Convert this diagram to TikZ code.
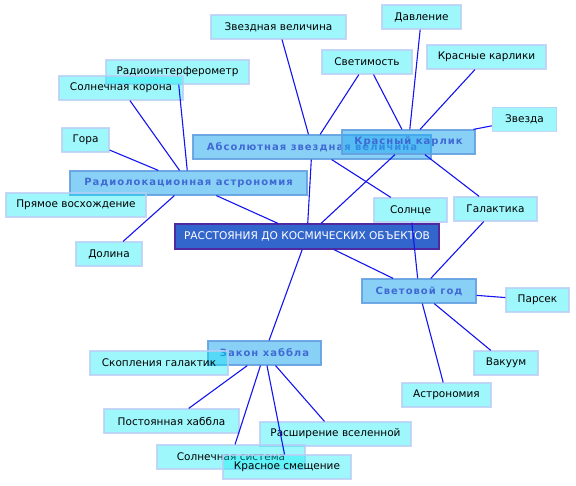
\documentclass[tikz,border=0pt]{standalone}
\usepackage{fontspec}
\setmainfont{DejaVu Sans}
\newfontfamily\midfont[LetterSpace=10,BoldFont={DejaVu Sans Bold}]{DejaVu Sans}
\definecolor{leaff}{RGB}{0,235,245}
\definecolor{leafb}{RGB}{185,205,245}
\definecolor{midf}{RGB}{40,170,240}
\definecolor{midb}{RGB}{100,160,225}
\definecolor{midt}{RGB}{60,100,210}
\definecolor{rootf}{RGB}{51,102,204}
\definecolor{rootb}{RGB}{80,40,160}
\definecolor{edgec}{RGB}{20,20,240}
\tikzset{
  leaf/.style={draw=leafb, line width=1.2pt, fill=leaff, fill opacity=0.38, draw opacity=0.8, text opacity=1,
    minimum height=24pt, inner sep=0pt, text=black, font=\fontsize{10.5}{12}\selectfont},
  mid/.style={draw=midb, line width=1.2pt, fill=midf, fill opacity=0.55, draw opacity=0.9, text opacity=0.95,
    minimum height=24pt, inner sep=0pt, text=midt, font=\midfont\bfseries\fontsize{10}{12}\selectfont},
  rootbox/.style={draw=rootb, line width=1.2pt, fill=rootf, text=white, minimum height=25pt, inner sep=0pt,
    font=\fontsize{10.6}{12}\selectfont},
  edge/.style={draw=edgec, line width=1.1pt}
}
\begin{document}
\begin{tikzpicture}[x=1pt,y=-1pt]
\useasboundingbox (0,0) rectangle (576,486);
% central
\node[rootbox, minimum width=264pt] (root) at (307,236.5) {РАССТОЯНИЯ ДО КОСМИЧЕСКИХ ОБЪЕКТОВ};
% leaves
\node[leaf, minimum width=135pt] (zv) at (278.5,27) {Звездная величина};
\node[leaf, minimum width=79pt] (dav) at (421.5,17) {Давление};
\node[leaf, minimum width=90pt] (svet) at (367,62) {Светимость};
\node[leaf, minimum width=119pt] (krk) at (486.5,57) {Красные карлики};
\node[leaf, minimum width=64pt] (zvezda) at (524.5,119.5) {Звезда};
\node[leaf, minimum width=143pt] (radint) at (177.5,72) {Радиоинтерферометр};
\node[leaf, minimum width=124pt] (solk) at (121,88) {Солнечная корона};
\node[leaf, minimum width=47pt] (gora) at (85.5,140) {Гора};
\node[leaf, minimum width=73pt] (sol) at (410.5,210) {Солнце};
\node[leaf, minimum width=83pt] (gal) at (495.5,209) {Галактика};
\node[leaf, minimum width=63pt] (pars) at (537.5,300) {Парсек};
\node[leaf, minimum width=64pt] (vak) at (506,363) {Вакуум};
\node[leaf, minimum width=89pt] (astr) at (446.5,395) {Астрономия};
\node[leaf, minimum width=66pt] (dol) at (109,254) {Долина};
\node[leaf, minimum width=135pt] (post) at (171.5,421) {Постоянная хаббла};
\node[leaf, minimum width=151pt] (rash) at (335.5,434) {Расширение вселенной};
\node[leaf, minimum width=148pt] (solsys) at (231,457) {Солнечная система};
\node[leaf, minimum width=128pt] (krsm) at (287,467) {Красное смещение};
% mid level
\node[mid, minimum width=237pt] (radlok) at (188.5,183) {Радиолокационная астрономия};
\node[leaf, minimum width=140pt] (pryam) at (76,205) {Прямое восхождение};
\node[mid, minimum width=238pt] (abs) at (312,147) {Абсолютная звездная величина};
\node[mid, minimum width=133pt] (krk1) at (408.5,142) {Красный карлик};
\node[mid, minimum width=114pt] (svg) at (419,291) {Световой год};
\node[mid, minimum width=113pt] (hab) at (264.5,353) {Закон хаббла};
\node[leaf, minimum width=138pt] (skop) at (159,363) {Скопления галактик};
% edges
\draw[edge] (root) -- (radlok);
\draw[edge] (root) -- (abs);
\draw[edge] (root) -- (krk1);
\draw[edge] (root) -- (svg);
\draw[edge] (root) -- (hab);
\draw[edge] (radlok) -- (radint);
\draw[edge] (radlok) -- (solk);
\draw[edge] (radlok) -- (gora);
\draw[edge] (radlok) -- (dol);
\draw[edge] (abs) -- (zv);
\draw[edge] (abs) -- (svet);
\draw[edge] (abs) -- (sol);
\draw[edge] (krk1) -- (svet);
\draw[edge] (krk1) -- (dav);
\draw[edge] (krk1) -- (krk);
\draw[edge] (krk1) -- (zvezda);
\draw[edge] (krk1) -- (gal);
\draw[edge] (sol) -- (svg);
\draw[edge] (gal) -- (svg);
\draw[edge] (svg) -- (pars);
\draw[edge] (svg) -- (vak);
\draw[edge] (svg) -- (astr);
\draw[edge] (hab) -- (post);
\draw[edge] (hab) -- (solsys);
\draw[edge] (hab) -- (krsm);
\draw[edge] (hab) -- (rash);
\end{tikzpicture}
\end{document}
